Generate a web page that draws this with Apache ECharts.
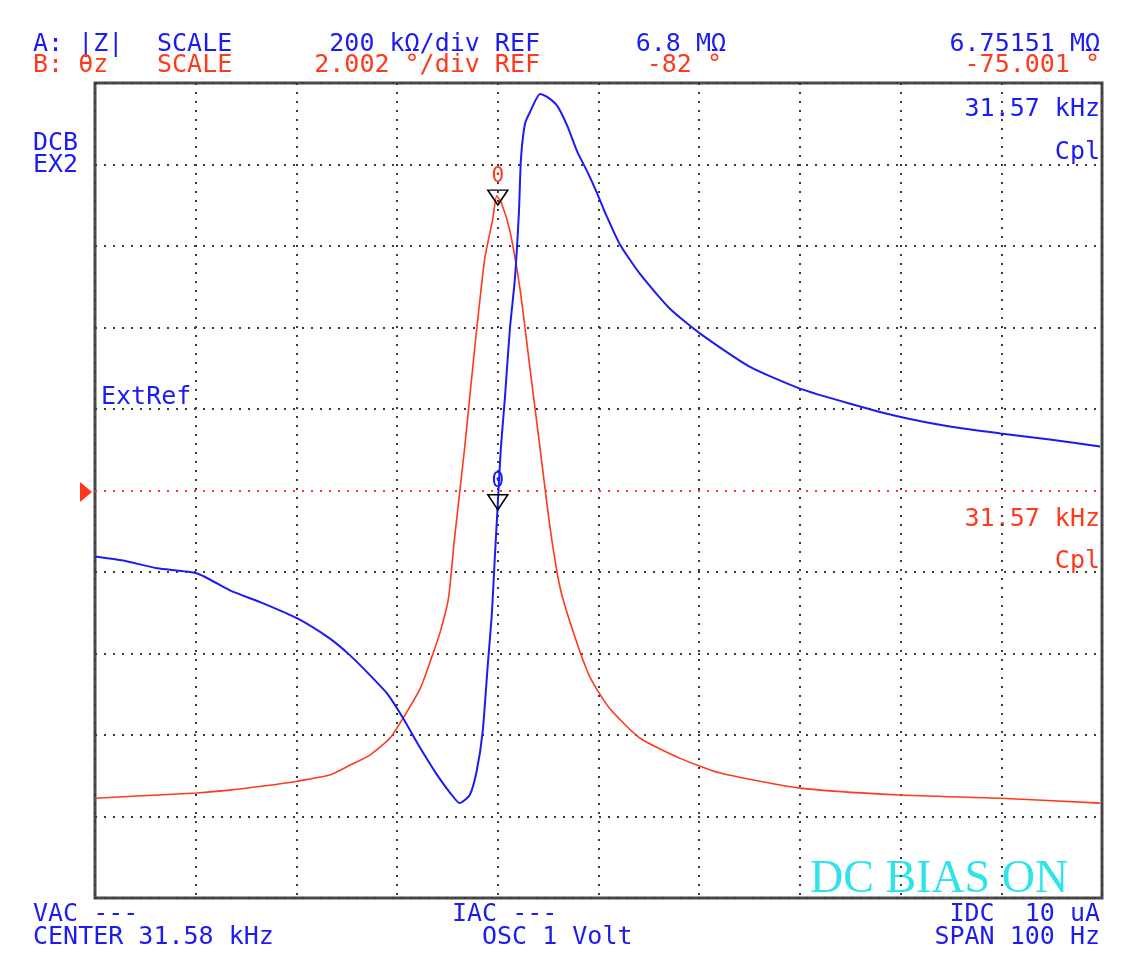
<!DOCTYPE html>
<html>
<head>
<meta charset="utf-8">
<script src="https://cdn.jsdelivr.net/npm/echarts@6/dist/echarts.min.js"></script>
<style>
  html, body { margin: 0; padding: 0; background: #fff; }
  #chart { width: 1123px; height: 958px; }
</style>
</head>
<body>
<div id="chart"></div>
<script>
// sweep: center 31.58 kHz, span 100 Hz
const xTicks = [31530, 31540, 31550, 31560, 31570, 31580, 31590, 31600, 31610, 31620, 31630];

// trace A: |Z| in kOhm (200 kOhm/div, ref 6.8 MOhm)
const blueFreq = [31530.0, 31532.8, 31536.2, 31540.1, 31543.4, 31546.7, 31550.1, 31553.3, 31555.3, 31557.3,
    31559.0, 31560.6, 31562.3, 31564.0, 31565.3, 31566.2, 31567.2, 31567.9, 31568.5, 31569.0,
    31569.4, 31569.7, 31570.0, 31570.3, 31570.7, 31571.2, 31571.7, 31572.1, 31572.3, 31572.7,
    31573.2, 31574.2, 31574.9, 31575.9, 31576.9, 31577.9, 31578.9, 31579.8, 31580.8, 31582.1,
    31584.1, 31587.1, 31590.1, 31595.0, 31600.0, 31605.0, 31609.9, 31614.9, 31619.9, 31624.8, 31629.8];
const blueZ = [6638, 6628, 6609, 6597, 6555, 6523, 6486, 6437, 6396, 6347,
    6302, 6241, 6168, 6101, 6057, 6033, 6052, 6111, 6209, 6371,
    6494, 6633, 6768, 6903, 7025, 7197, 7320, 7484, 7614, 7700,
    7729, 7773, 7766, 7744, 7695, 7631, 7582, 7533, 7474, 7405,
    7332, 7246, 7185, 7104, 7050, 7013, 6981, 6957, 6940, 6925, 6908];

// trace B: theta z in degrees (2.002 deg/div, ref -82 deg)
const redFreq = [31530.0, 31536.2, 31540.1, 31543.4, 31546.7, 31550.1, 31553.3, 31555.3, 31557.3, 31559.3,
    31560.6, 31562.3, 31563.5, 31564.3, 31565.1, 31565.7, 31566.7, 31567.7, 31568.7, 31569.5,
    31569.9, 31570.4, 31571.2, 31572.2, 31573.2, 31574.2, 31575.2, 31576.2, 31577.7, 31579.2,
    31581.1, 31584.1, 31588.1, 31592.1, 31600.0, 31609.9, 31619.9, 31629.8];
const redTheta = [-89.56, -89.48, -89.43, -89.36, -89.26, -89.14, -88.99, -88.75, -88.50, -88.08,
    -87.59, -86.86, -86.05, -85.46, -84.65, -83.18, -80.97, -78.52, -76.31, -75.33,
    -74.76, -74.96, -75.62, -77.04, -79.01, -80.97, -82.93, -84.40, -85.63, -86.61,
    -87.35, -88.08, -88.58, -88.94, -89.31, -89.48, -89.56, -89.68];

// marker readout
const markerFreq = 31570;
const markerZ = 6751.51;
const markerTheta = -75.001;

const BLUE = '#1c1cf0';
const RED = '#ff3a1c';
const MONO = '"DejaVu Sans Mono", monospace';

function txt(x, y, text, color, align, font) {
    return {
        type: 'text', x: x, y: y,
        style: {
            text: text, fill: color, align: align || 'left', verticalAlign: 'middle',
            font: font || ('25px ' + MONO)
        }
    };
}

// hide the gray dotted line at the reference (red ref line sits there)
const gridColors = xTicks.map((d, i) => i === 5 ? 'rgba(0,0,0,0)' : '#3a3a3a');

let chart = echarts.init(document.getElementById('chart'));
let option = {
    animation: false,
    backgroundColor: '#fff',
    grid: {
        left: 95, right: 21, top: 83, bottom: 60,
        show: true, borderColor: '#4a4a4a', borderWidth: 3, backgroundColor: '#fff'
    },
    xAxis: {
        type: 'value', min: xTicks[0], max: xTicks[xTicks.length - 1], interval: 10,
        axisLabel: {show: false}, axisLine: {show: false}, axisTick: {show: false},
        splitLine: {show: true, lineStyle: {color: '#3a3a3a', width: 2, type: [2, 7]}}
    },
    yAxis: [
        {
            type: 'value', min: 5800, max: 7800, interval: 200,
            axisLabel: {show: false}, axisLine: {show: false}, axisTick: {show: false},
            splitLine: {show: true, lineStyle: {color: gridColors, width: 2, type: [2, 7]}}
        },
        {
            type: 'value', min: -92.01, max: -71.99,
            axisLabel: {show: false}, axisLine: {show: false}, axisTick: {show: false},
            splitLine: {show: false}
        }
    ],
    series: [
        {
            type: 'line', name: 'theta', yAxisIndex: 1,
            data: redFreq.map((f, i) => [f, redTheta[i]]),
            showSymbol: false, smooth: 0.2,
            lineStyle: {color: RED, width: 1.6},
            markLine: {
                silent: true, symbol: 'none', label: {show: false},
                lineStyle: {color: RED, width: 2, type: [2, 7]},
                data: [{yAxis: -82}]
            },
            markPoint: {
                symbol: 'triangle', symbolRotate: 180, symbolSize: [20, 15], symbolOffset: [0, -8],
                itemStyle: {color: 'rgba(255,255,255,0)', borderColor: '#000', borderWidth: 1.5},
                label: {show: true, position: 'top', distance: 2, formatter: '0', color: RED,
                    fontFamily: MONO, fontSize: 21},
                data: [{coord: [markerFreq, markerTheta]}]
            }
        },
        {
            type: 'line', name: '|Z|', yAxisIndex: 0,
            data: blueFreq.map((f, i) => [f, blueZ[i]]),
            showSymbol: false, smooth: 0.2,
            lineStyle: {color: BLUE, width: 2},
            markPoint: {
                symbol: 'triangle', symbolRotate: 180, symbolSize: [20, 15], symbolOffset: [0, -8],
                itemStyle: {color: 'rgba(255,255,255,0)', borderColor: '#000', borderWidth: 1.5},
                label: {show: true, position: 'top', distance: 2, formatter: '0', color: BLUE,
                    fontFamily: MONO, fontSize: 21},
                data: [{coord: [markerFreq, markerZ]}]
            }
        }
    ],
    graphic: [
        txt(33, 44, 'A: |Z|', BLUE),
        txt(157, 44, 'SCALE', BLUE),
        txt(540, 44, '200 k\u03a9/div REF', BLUE, 'right'),
        txt(726, 44, '6.8 M\u03a9', BLUE, 'right'),
        txt(1100, 44, '6.75151 M\u03a9', BLUE, 'right'),
        txt(33, 65, 'B: \u03b8z', RED),
        txt(157, 65, 'SCALE', RED),
        txt(540, 65, '2.002 \u00b0/div REF', RED, 'right'),
        txt(722, 65, '-82 \u00b0', RED, 'right'),
        txt(1100, 65, '-75.001 \u00b0', RED, 'right'),
        txt(33, 143, 'DCB', BLUE),
        txt(33, 165, 'EX2', BLUE),
        txt(101, 397, 'ExtRef', BLUE),
        txt(1100, 109, '31.57 kHz', BLUE, 'right'),
        txt(1100, 152, 'Cpl', BLUE, 'right'),
        txt(1100, 519, '31.57 kHz', RED, 'right'),
        txt(1100, 561, 'Cpl', RED, 'right'),
        txt(810, 880, 'DC BIAS ON', '#2ee4ea', 'left', '46px "Liberation Serif", serif'),
        txt(33, 914, 'VAC ---', BLUE),
        txt(33, 937, 'CENTER 31.58 kHz', BLUE),
        txt(452, 914, 'IAC ---', BLUE),
        txt(482, 937, 'OSC 1 Volt', BLUE),
        txt(1100, 914, 'IDC  10 uA', BLUE, 'right'),
        txt(1100, 937, 'SPAN 100 Hz', BLUE, 'right'),
        {
            type: 'polygon',
            shape: {points: [[80, 482], [92, 492], [80, 502]]},
            style: {fill: RED}
        }
    ]
};
chart.setOption(option);
</script>
</body>
</html>
